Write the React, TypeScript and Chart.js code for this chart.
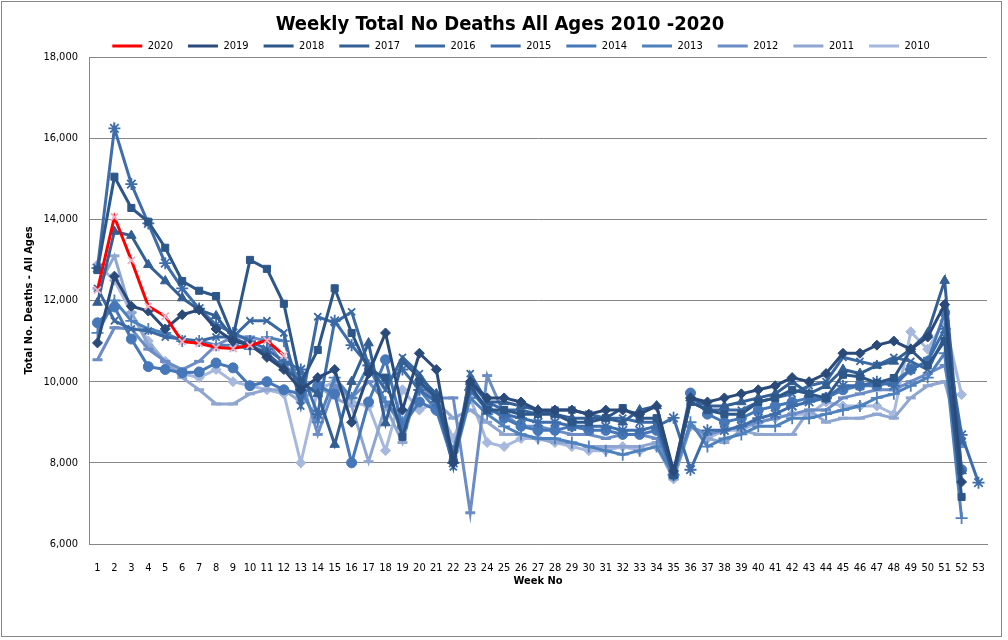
import React, { useEffect, useRef } from 'react';
import { Chart, registerables } from 'chart.js';

Chart.register(...registerables);

const weeks = ['1','2','3','4','5','6','7','8','9','10','11','12','13','14','15','16','17','18','19','20','21','22','23','24','25','26','27','28','29','30','31','32','33','34','35','36','37','38','39','40','41','42','43','44','45','46','47','48','49','50','51','52','53'];

const yTicks = [6000, 8000, 10000, 12000, 14000, 16000, 18000];

const y2020 = [12254, 14058, 12990, 11856, 11612, 10986, 10944, 10841, 10816, 10895, 11019, 10645];
const y2019 = [10955, 12600, 11860, 11740, 11300, 11650, 11770, 11300, 11000, 10900, 10600, 10300, 9800, 10100, 10300, 9000, 10200, 11200, 9300, 10700, 10300, 8000, 10000, 9600, 9600, 9500, 9300, 9300, 9300, 9200, 9300, 9300, 9200, 9400, 7800, 9600, 9500, 9600, 9700, 9800, 9900, 10100, 10000, 10200, 10700, 10700, 10900, 11000, 10800, 11100, 11900, 7530];
const y2018 = [12750, 15050, 14280, 13940, 13300, 12480, 12240, 12110, 11100, 13000, 12780, 11920, 9970, 10780, 12300, 11200, 10300, 10100, 8640, 10000, 9600, 8100, 9900, 9300, 9300, 9200, 9200, 9200, 9000, 9000, 9100, 9350, 9100, 9100, 7700, 9500, 9300, 9200, 9200, 9500, 9600, 9800, 9700, 9600, 10170, 10120, 9970, 10090, 10780, 10400, 11000, 7160];
const y2017 = [11950, 13700, 13600, 12880, 12480, 12060, 11770, 11620, 11080, 10900, 10700, 10340, 10000, 9700, 8450, 10000, 10950, 8980, 10500, 10100, 9700, 8100, 10000, 9500, 9500, 9400, 9300, 9200, 9100, 9100, 9100, 9000, 9300, 9400, 7700, 9600, 9400, 9400, 9500, 9600, 9700, 10000, 9700, 9900, 10300, 10200, 10400, 10500, 10800, 11200, 12490, 7800];
const y2016 = [12300, 11500, 11300, 11250, 11100, 11050, 11000, 11100, 11100, 11500, 11500, 11200, 9400, 11600, 11450, 11720, 10400, 9800, 10600, 10200, 9600, 7900, 10200, 9500, 9300, 9300, 9200, 9300, 9300, 9200, 9100, 9100, 9000, 9000, 7700, 9500, 9300, 9300, 9300, 9500, 9600, 9700, 9900, 10000, 10600, 10500, 10400, 10600, 10500, 10300, 11100, 8500];
const y2015 = [12800, 16240, 14870, 13900, 12920, 12300, 11800, 11400, 11200, 11000, 10800, 10500, 10300, 9200, 11500, 10900, 10400, 10000, 10300, 9800, 9500, 8000, 9800, 9300, 9200, 9100, 9000, 9000, 8900, 8900, 8900, 8800, 8800, 8900, 9110, 7830, 8800, 8800, 8900, 9100, 9200, 9400, 9500, 9600, 9900, 9900, 10000, 9900, 10300, 10500, 11300, 8690, 7510];
const y2014 = [11450, 11840, 11050, 10370, 10300, 10220, 10240, 10460, 10340, 9900, 10000, 9800, 9700, 9900, 9700, 8000, 9500, 10540, 8900, 9500, 9300, 8300, 9800, 9400, 9100, 8900, 8800, 8800, 8900, 8800, 8800, 8700, 8700, 8800, 7700, 9720, 9200, 9000, 9100, 9300, 9400, 9500, 9600, 9600, 9800, 9900, 9900, 10000, 10300, 10500, 11700, 7830];
const y2013 = [11200, 12000, 11500, 11300, 11200, 11000, 11000, 10900, 10900, 10800, 11100, 11000, 9800, 9000, 10100, 9600, 10400, 9500, 9000, 9800, 9300, 8000, 9600, 9200, 8900, 8700, 8600, 8600, 8500, 8400, 8300, 8200, 8300, 8400, 7700, 9000, 8400, 8600, 8700, 8900, 8900, 9100, 9100, 9200, 9300, 9400, 9600, 9700, 9900, 10100, 10700, 6640];
const y2012 = [10540, 11330, 11300, 10800, 10500, 10300, 10500, 10900, 11100, 11100, 11000, 10400, 10100, 8700, 9900, 9600, 10000, 9500, 8900, 9900, 9600, 9600, 6770, 10150, 9200, 8900, 8900, 8800, 8700, 8700, 8600, 8700, 8700, 8600, 7700, 8900, 8700, 8800, 8900, 9000, 9100, 9200, 9300, 9300, 9600, 9700, 9800, 9800, 10000, 10200, 10400, 8400];
const y2011 = [12300, 13100, 11700, 10900, 10500, 10100, 9800, 9450, 9450, 9700, 9800, 9800, 9500, 9900, 9600, 9400, 8030, 9400, 8500, 10000, 9500, 9100, 9300, 9000, 8700, 8700, 8600, 8500, 8500, 8400, 8400, 8400, 8400, 8500, 7600, 8900, 8600, 8500, 8800, 8700, 8700, 8700, 9300, 9000, 9100, 9100, 9200, 9100, 9600, 9900, 10000, 8500];
const y2010 = [12880, 12500, 11700, 11000, 10500, 10200, 10100, 10300, 10000, 9900, 9800, 9700, 8000, 9800, 10000, 9500, 9400, 8300, 9800, 9300, 9500, 8600, 9600, 8500, 8400, 8600, 8600, 8500, 8400, 8300, 8300, 8400, 8300, 8400, 7600, 8900, 8600, 8800, 8800, 9000, 9100, 9200, 9200, 9500, 9400, 9400, 9400, 9200, 11230, 10800, 11500, 9680];

const seriesNames = ['2020', '2019', '2018', '2017', '2016', '2015', '2014', '2013', '2012', '2011', '2010'];
const seriesData = [y2020, y2019, y2018, y2017, y2016, y2015, y2014, y2013, y2012, y2011, y2010];

const seriesColors = ['#ff0000', '#2a4a7a', '#2e5789', '#335f94', '#3a69a3', '#3e6dab', '#4677b8', '#4f81bd', '#6b8cc4', '#8ea6d0', '#a6b8dd'];
const markerStyles = ['crossRot', 'rectRot', 'rect', 'triangle', 'crossRot', 'star', 'circle', 'cross', 'line', 'line', 'rectRot'];
const markerSizes = [5, 5, 5, 5.5, 5, 6, 5, 6, 5, 5, 5];

const FONT = '"Liberation Sans Narrow", "DejaVu Sans Condensed", "Open Sans", Arial, sans-serif';

export default function App() {
  const ref = useRef<HTMLCanvasElement | null>(null);

  useEffect(() => {
    if (!ref.current) return;
    const datasets = seriesNames.map((name, i) => {
      const style = markerStyles[i];
      const open = style === 'crossRot' || style === 'cross' || style === 'star' || style === 'line';
      const pColor = i === 0 ? '#eeb0c2' : seriesColors[i];
      return {
        label: name,
        data: seriesData[i],
        borderColor: seriesColors[i],
        backgroundColor: pColor,
        borderWidth: 3,
        tension: 0,
        pointStyle: style as any,
        pointRadius: markerSizes[i],
        pointBackgroundColor: pColor,
        pointBorderColor: pColor,
        pointBorderWidth: style === 'line' ? 3 : open ? 1.8 : 1,
        fill: false,
      };
    });

    const tweak = {
      id: 'tweak',
      afterInit(chart: any) {
        const lg = chart.legend;
        if (lg) {
          const fit = lg.fit.bind(lg);
          lg.fit = function () {
            fit();
            this.height -= 4.5;
          };
          const draw = lg.draw.bind(lg);
          lg.draw = function (...args: any[]) {
            const ctx = chart.ctx;
            ctx.save();
            ctx.translate(21, 0);
            draw(...args);
            ctx.restore();
          };
        }
      },
      afterDraw(chart: any) {
        const ctx = chart.ctx;
        ctx.save();
        ctx.strokeStyle = '#868686';
        ctx.lineWidth = 1;
        ctx.strokeRect(1.5, 1.5, 1000, 635);
        ctx.restore();
      },
    };

    const chart = new Chart(ref.current, {
      type: 'line',
      data: { labels: weeks, datasets: datasets as any },
      options: {
        responsive: false,
        animation: false,
        devicePixelRatio: 1,
        layout: { padding: { left: 13, right: 21, top: 0, bottom: 36 } },
        plugins: {
          title: {
            display: true,
            text: 'Weekly Total No Deaths All Ages 2010 -2020',
            color: '#000',
            font: { family: FONT, size: 20, weight: 'bold' },
            padding: { top: 13, bottom: -11.5 },
          },
          legend: {
            position: 'top',
            labels: {
              usePointStyle: true,
              pointStyle: 'line',
              pointStyleWidth: 30,
              padding: 15,
              color: '#000',
              font: { family: FONT, size: 11 },
              generateLabels: (c: any) => {
                const items = (Chart as any).defaults.plugins.legend.labels.generateLabels(c);
                items.forEach((it: any) => {
                  const ds = c.data.datasets[it.datasetIndex];
                  it.strokeStyle = ds.borderColor;
                  it.lineWidth = 3;
                  it.pointStyle = 'line';
                });
                return items;
              },
            },
          },
          tooltip: { enabled: false },
        },
        scales: {
          x: {
            offset: true,
            grid: { display: false },
            border: { display: true, color: '#868686' },
            ticks: {
              autoSkip: false,
              maxRotation: 0,
              minRotation: 0,
              padding: 10,
              color: '#000',
              font: { family: FONT, size: 11 },
            },
            title: {
              display: true,
              text: 'Week No',
              color: '#000',
              font: { family: FONT, size: 11, weight: 'bold' },
              padding: { top: 0, bottom: 16 },
            },
            afterFit: (s: any) => {
              s.height = 60;
            },
          },
          y: {
            min: yTicks[0],
            max: yTicks[yTicks.length - 1],
            afterBuildTicks: (s: any) => {
              s.ticks = yTicks.map((v) => ({ value: v }));
            },
            grid: { color: '#868686', drawTicks: false },
            border: { display: true, color: '#868686' },
            ticks: {
              padding: 11,
              color: '#000',
              font: { family: FONT, size: 11 },
              callback: (v: any) => Number(v).toLocaleString('en-US'),
            },
            title: {
              display: true,
              text: 'Total No. Deaths - All Ages',
              color: '#000',
              font: { family: FONT, size: 11, weight: 'bold' },
              padding: { top: 10, bottom: 0 },
            },
            afterFit: (s: any) => {
              s.width = 76;
            },
          },
        },
      } as any,
      plugins: [tweak],
    });
    return () => chart.destroy();
  }, []);

  return (
    <div style={{ position: 'fixed', left: 0, top: 0, width: 1008, height: 640, background: '#fff' }}>
      <canvas ref={ref} width={1008} height={640} style={{ display: 'block' }} />
    </div>
  );
}
